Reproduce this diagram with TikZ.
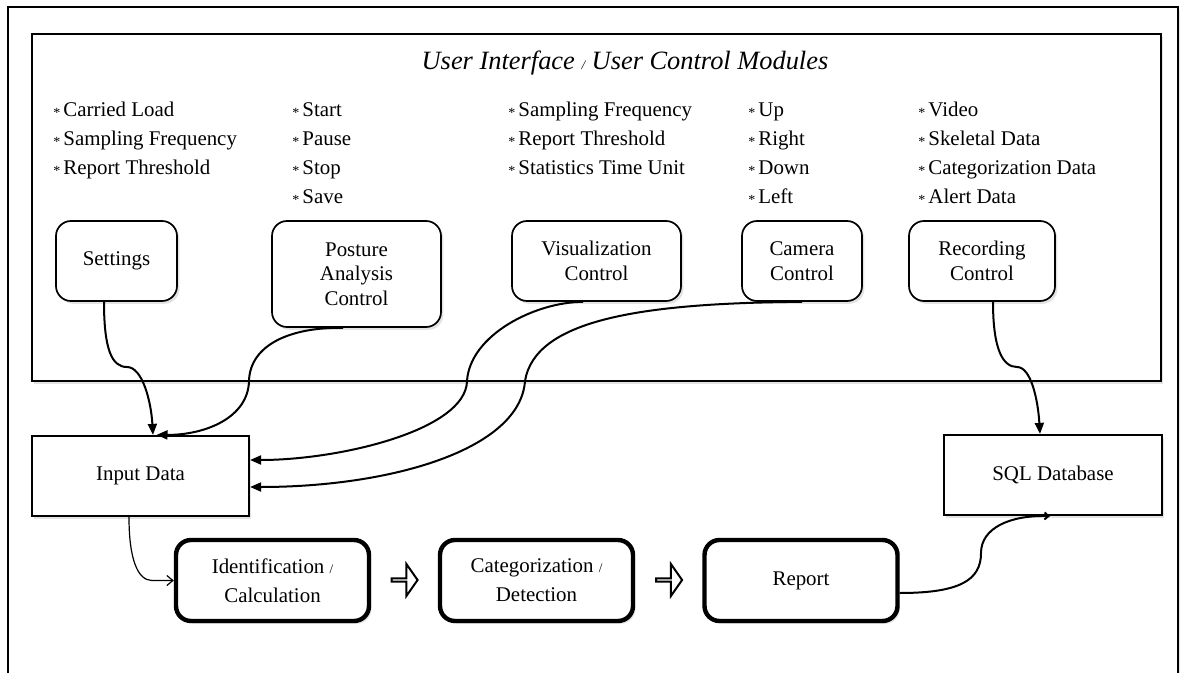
\documentclass[tikz,border=0pt]{standalone}
\usepackage{fontspec}
\setmainfont{Liberation Serif}
\usepackage{tikz}
\usetikzlibrary{positioning,shapes.arrows,arrows.meta,calc,shadows}

\newcommand{\bul}{\makebox[5pt][l]{\raisebox{-0.4pt}{\scriptsize *}}}
\newcommand{\smallslash}{{\fontsize{6.5}{7}\selectfont /}}

\begin{document}
\begin{tikzpicture}[
    x=0.5pt, y=-0.5pt,
    font=\fontsize{10.45}{12.3}\selectfont,
    >={Triangle[length=5.5pt,width=4.5pt]},
    boxshadow/.style={
        drop shadow={opacity=0.22,shadow xshift=1.2pt,shadow yshift=-1.4pt}
    },
    ctrl/.style={
        draw=black,
        line width=0.85pt,
        rounded corners=7.5pt,
        fill=white,
        align=center,
        minimum height=40pt,
        inner sep=2pt,
        boxshadow
    },
    stage/.style={
        draw=black,
        line width=2.2pt,
        rounded corners=7.5pt,
        fill=white,
        align=center,
        minimum width=96.5pt,
        minimum height=40.5pt,
        font=\fontsize{10.45}{14.5}\selectfont,
        boxshadow
    },
    store/.style={
        draw=black,
        line width=1.1pt,
        fill=white,
        minimum width=108.5pt,
        minimum height=40pt,
        boxshadow
    },
    item/.style={anchor=base west, inner sep=0pt},
    hollow/.style={
        single arrow,
        draw=black,
        line width=1pt,
        fill=white,
        inner sep=0pt,
        minimum height=13pt,
        minimum width=16pt,
        single arrow head extend=4.25pt,
        single arrow tip angle=110
    },
    arr/.style={->, line width=1pt},
    thinarr/.style={-{Straight Barb[length=3pt,width=5pt]}, line width=0.6pt},
    tinyarr/.style={-{Straight Barb[length=2pt,width=3.5pt]}, line width=1pt}
]
\useasboundingbox (0,0) rectangle (1186,673);
\clip (0,0) rectangle (1186,673);

% frames
\draw[line width=0.75pt, fill=white, boxshadow] (8,7) rectangle (1178,700);
\draw[line width=1pt, fill=white, boxshadow] (32,34) rectangle (1161,381);

\node[font=\fontsize{13.2}{15}\selectfont\itshape, anchor=base] (title) at (625,70)
    {User Interface \smallslash\ User Control Modules};

% option lists
\foreach \t [count=\i] in {Carried Load, Sampling Frequency, Report Threshold}
    \node[item] (set-\i) at (53, 88+29*\i) {\bul\t};
\foreach \t [count=\i] in {Start, Pause, Stop, Save}
    \node[item] (pos-\i) at (292, 88+29*\i) {\bul\t};
\foreach \t [count=\i] in {Sampling Frequency, Report Threshold, Statistics Time Unit}
    \node[item] (vis-\i) at (508, 88+29*\i) {\bul\t};
\foreach \t [count=\i] in {Up, Right, Down, Left}
    \node[item] (cam-\i) at (748, 88+29*\i) {\bul\t};
\foreach \t [count=\i] in {Video, Skeletal Data, Categorization Data, Alert Data}
    \node[item] (rec-\i) at (918, 88+29*\i) {\bul\t};

% control modules
\node[ctrl, minimum width=60.5pt] (settings) at (116.5,261) {Settings};
\node[ctrl, minimum width=84.5pt, minimum height=53pt] (posture) at (356.5,274)
    {Posture\\Analysis\\Control};
\node[ctrl, minimum width=84.5pt] (vis) at (596.5,261) {Visualization\\Control};
\node[ctrl, minimum width=60pt] (camera) at (802,261) {Camera\\Control};
\node[ctrl, minimum width=73pt] (rec) at (982,261) {Recording\\Control};

% processing chain
\node[store] (input) at (140.5,476) {Input Data};
\node[store, minimum width=109pt] (sql) at (1053,475) {SQL Database};

\node[stage] (ident) at (272.5,580.5) {Identification \smallslash\\Calculation};
\node[hollow] (go1) at (404,580) {};
\node[stage] (categ) at (536.5,580.5) {Categorization \smallslash\\Detection};
\node[hollow] (go2) at (668.5,580) {};
\node[stage] (report) at (801,580.5) {Report};

% connectors
\draw[arr] ($(settings.south)+(-12.5,0)$) .. controls (104,350) and (112,367) .. (127,367)
    .. controls (142,367) and (151,400) .. ($(input.north)+(12.5,0)$);
\draw[arr] ($(posture.south)+(-13.5,0)$) .. controls (290,327) and (250,345) .. (249,381)
    .. controls (248,418) and (205,435) .. ($(input.north)+(16,0)$);
\draw[arr] ($(vis.south)+(-13.5,0)$) .. controls (535,302) and (470,335) .. (467,381)
    .. controls (466,430) and (340,460) .. ($(input.east)+(0,-16)$);
\draw[arr] (camera.south) .. controls (640,303) and (535,320) .. (525,381)
    .. controls (520,450) and (390,487) .. ($(input.east)+(0,11)$);
\draw[arr] ($(rec.south)+(11,0)$) .. controls (993,350) and (1003,367) .. (1017,367)
    .. controls (1031,367) and (1038,400) .. ($(sql.north)+(-13,0)$);

\draw[thinarr] ($(input.south)+(-11.5,0)$) .. controls (129,560) and (138,580.5) .. (152,580.5)
    -- (ident.west);
\draw[tinyarr] ($(report.east)+(0,12.5)$) .. controls (960,593) and (981,580) .. (981,553)
    .. controls (981,528) and (1010,515) .. ($(sql.south)+(-3,0)$);

\end{tikzpicture}
\end{document}
